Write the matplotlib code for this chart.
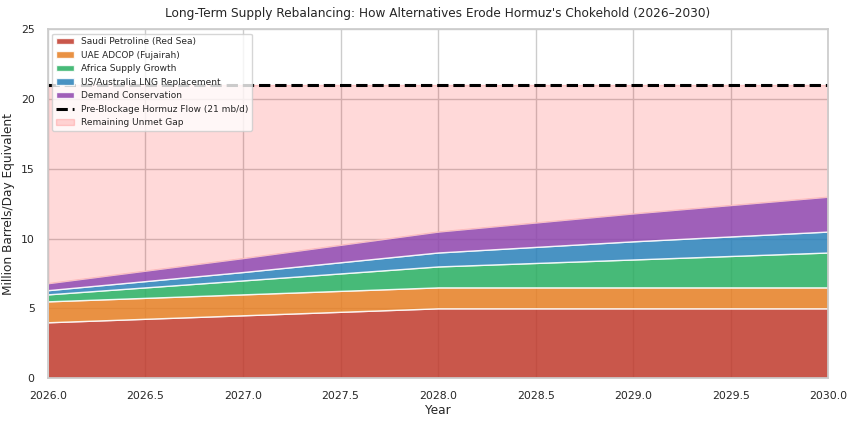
import matplotlib
matplotlib.use('Agg')
import matplotlib.pyplot as plt
import numpy as np
import seaborn as sns

sns.set_theme(style='whitegrid')

years = [2026.0, 2027.0, 2028.0, 2029.0, 2030.0]
saudi = [4.0, 4.5, 5.0, 5.0, 5.0]
uae = [1.5, 1.5, 1.5, 1.5, 1.5]
africa = [0.5, 1.0, 1.5, 2.0, 2.5]
lng = [0.3, 0.6, 1.0, 1.3, 1.5]
demand = [0.5, 1.0, 1.5, 2.0, 2.5]
hormuz_flow = 21

labels = ['Saudi Petroline (Red Sea)', 'UAE ADCOP (Fujairah)', 'Africa Supply Growth',
          'US/Australia LNG Replacement', 'Demand Conservation']
colors = ['#c0392b', '#e67e22', '#27ae60', '#2980b9', '#8e44ad']

fig, ax = plt.subplots(figsize=(8.54, 4.22), dpi=100)

ax.stackplot(years, saudi, uae, africa, lng, demand, labels=labels,
             colors=colors, alpha=0.85, edgecolor='white', linewidth=1)
total = np.sum([saudi, uae, africa, lng, demand], axis=0)
ax.axhline(hormuz_flow, color='black', linestyle='--', linewidth=2.2,
           label='Pre-Blockage Hormuz Flow (21 mb/d)')
ax.fill_between(years, total, hormuz_flow, color='red', alpha=0.15,
                label='Remaining Unmet Gap')

ax.set_xlim(2026, 2030)
ax.set_ylim(0, 25)
ax.set_xlabel('Year', fontsize=8.7, labelpad=2)
ax.set_ylabel('Million Barrels/Day Equivalent', fontsize=8.7)
ax.set_title("Long-Term Supply Rebalancing: How Alternatives Erode Hormuz's Chokehold (2026\u20132030)",
             fontsize=8.7, pad=9)
ax.tick_params(labelsize=7.8)
ax.legend(loc='upper left', fontsize=6.5)

fig.subplots_adjust(left=0.056, right=0.97, top=0.931, bottom=0.104)
fig.savefig('out.png', dpi=100)
